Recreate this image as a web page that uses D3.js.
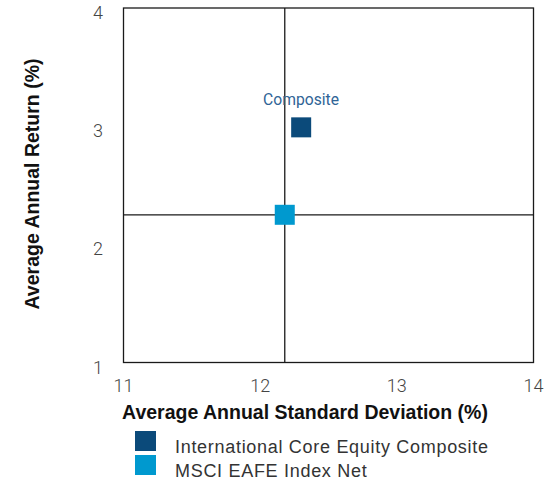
<!DOCTYPE html>
<html>
<head>
<meta charset="utf-8">
<script src="https://cdn.jsdelivr.net/npm/d3@7"></script>
<style>
  body { margin: 0; background: #fff; }
  svg { display: block; }
</style>
</head>
<body>
<svg width="547" height="482"></svg>
<script>
// data
var names = ['International Core Equity Composite', 'MSCI EAFE Index Net'];
var stdDev = [12.30, 12.18];
var returns = [2.99, 2.25];
var colors = ['#0b4a7a', '#0099cf'];
var xTicks = [11, 12, 13, 14];
var yTicks = [1, 2, 3, 4];

var svg = d3.select('svg');
var pl = 123.5, pr = 533.5, pt = 8, pb = 362.5;

var x = d3.scaleLinear().domain([11, 14]).range([pl, pr]);
var y = d3.scaleLinear().domain([1, 4]).range([pb, pt]);

// frame
svg.append('rect')
    .attr('x', pl).attr('y', pt)
    .attr('width', pr - pl).attr('height', pb - pt)
    .attr('fill', 'none')
    .attr('stroke', '#1a1a1a')
    .attr('stroke-width', 1.3);

// crosshair at the benchmark
svg.append('line')
    .attr('x1', x(stdDev[1])).attr('x2', x(stdDev[1]))
    .attr('y1', pt).attr('y2', pb)
    .attr('stroke', '#1a1a1a').attr('stroke-width', 1.3);
svg.append('line')
    .attr('x1', pl).attr('x2', pr)
    .attr('y1', y(returns[1])).attr('y2', y(returns[1]))
    .attr('stroke', '#1a1a1a').attr('stroke-width', 1.3);

// ticks
svg.selectAll('.xt').data(xTicks).enter().append('text')
    .attr('x', d => x(d)).attr('y', 392)
    .attr('text-anchor', 'middle')
    .attr('font-family', 'Roboto').attr('font-weight', 300)
    .attr('font-size', '18px').attr('fill', '#444')
    .text(d => d);

svg.selectAll('.yt').data(yTicks).enter().append('text')
    .attr('x', 98).attr('y', d => y(d) + 11)
    .attr('text-anchor', 'middle')
    .attr('font-family', 'Roboto').attr('font-weight', 300)
    .attr('font-size', '18px').attr('fill', '#444')
    .text(d => d);

// axis titles
svg.append('text')
    .attr('x', 305).attr('y', 419)
    .attr('text-anchor', 'middle')
    .attr('font-family', 'Liberation Sans').attr('font-weight', 'bold')
    .attr('font-size', '19.5px').attr('fill', '#111')
    .text('Average Annual Standard Deviation (%)');

svg.append('text')
    .attr('transform', 'translate(39,184) rotate(-90)')
    .attr('text-anchor', 'middle')
    .attr('font-family', 'Liberation Sans').attr('font-weight', 'bold')
    .attr('font-size', '19.5px').attr('fill', '#111')
    .text('Average Annual Return (%)');

// points
var sz = 20;
svg.selectAll('.pt').data(names).enter().append('rect')
    .attr('x', (d, i) => x(stdDev[i]) - sz / 2)
    .attr('y', (d, i) => y(returns[i]) - sz / 2)
    .attr('width', sz).attr('height', sz)
    .attr('fill', (d, i) => colors[i]);

svg.append('text')
    .attr('x', 263).attr('y', 105)
    .attr('font-family', 'Roboto')
    .attr('font-size', '17px').attr('fill', '#2f6496')
    .attr('textLength', 76).attr('lengthAdjust', 'spacingAndGlyphs')
    .text('Composite');

// legend
var lg = svg.selectAll('.lg').data(names).enter().append('g')
    .attr('transform', (d, i) => `translate(135,${431 + i * 24})`);
lg.append('rect')
    .attr('width', 21).attr('height', 20)
    .attr('fill', (d, i) => colors[i]);
lg.append('text')
    .attr('x', 40).attr('y', 22)
    .attr('font-family', 'Liberation Sans')
    .attr('font-size', '18px').attr('letter-spacing', '0.7px')
    .attr('fill', '#333')
    .text(d => d);
</script>
</body>
</html>
